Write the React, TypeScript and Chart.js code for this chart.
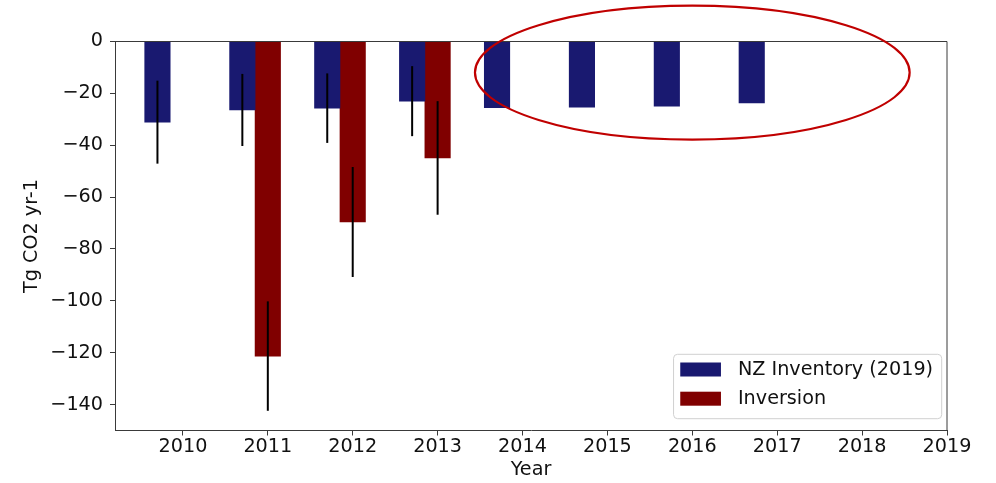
import React, { useEffect, useRef } from "react";
import { Chart, registerables } from "chart.js";

Chart.register(...registerables);

// Annual CO2 flux estimates (Tg CO2 per year)
const YEARS_NZ = [2010, 2011, 2012, 2013, 2014, 2015, 2016, 2017];
const NZ_INVENTORY = [-31.1, -26.4, -25.7, -23.0, -25.5, -25.3, -24.9, -23.7];
const NZ_ERROR = [16.0, 13.9, 13.4, 13.5, null, null, null, null];

const YEARS_INVERSION = [2011, 2012, 2013];
const INVERSION = [-121.3, -69.6, -44.9];
const INVERSION_ERROR = [21.1, 21.2, 21.9];

const SERIES_LABELS = ["NZ Inventory (2019)", "Inversion"];
const X_TICKS = [2010, 2011, 2012, 2013, 2014, 2015, 2016, 2017, 2018, 2019];
const Y_TICKS = [0, -20, -40, -60, -80, -100, -120, -140];

// Highlight ellipse around the inventory-only years (data units)
const HIGHLIGHT_CENTER = [2016.0, -12];
const HIGHLIGHT_RADII = [2.56, 25.8];

const BAR_OFFSET = 0.3; // inventory bars sit left of the year
const BLUE = "#191970";
const RED = "#800000";
const SPINE = "#3a3a3a";
const TEXT = "#111111";
const FONT_FAMILY = "'DejaVu Sans', sans-serif";
const FONT_SIZE = 19.2;

const overlayPlugin = {
  id: "overlay",
  afterDatasetsDraw(chart: any) {
    const { ctx, chartArea, scales } = chart;
    const yScale = scales.y;
    ctx.save();
    // error bars
    ctx.strokeStyle = "#000";
    ctx.lineWidth = 2;
    chart.data.datasets.forEach((ds: any, di: number) => {
      const meta = chart.getDatasetMeta(di);
      meta.data.forEach((el: any, i: number) => {
        const err = ds.errors ? ds.errors[i] : null;
        if (err == null) return;
        const v = ds.data[i].y;
        ctx.beginPath();
        ctx.moveTo(el.x, yScale.getPixelForValue(v + err));
        ctx.lineTo(el.x, yScale.getPixelForValue(v - err));
        ctx.stroke();
      });
    });
    // top and right spines
    ctx.strokeStyle = SPINE;
    ctx.lineWidth = 1;
    ctx.beginPath();
    ctx.moveTo(chartArea.left, chartArea.top);
    ctx.lineTo(chartArea.right, chartArea.top);
    ctx.lineTo(chartArea.right, chartArea.bottom);
    ctx.stroke();
    ctx.restore();
  },
  afterDraw(chart: any) {
    const { ctx, chartArea, scales } = chart;
    ctx.save();
    // legend box, lower right
    ctx.font = `${FONT_SIZE}px ${FONT_FAMILY}`;
    const labels = chart.data.datasets.map((d: any) => d.label);
    const textW = Math.max(...labels.map((l: string) => ctx.measureText(l).width));
    const padL = 6.7, handleW = 40.7, gap = 17, padR = 8.6, boxH = 64.4;
    const boxW = padL + handleW + gap + textW + padR;
    const right = chartArea.right - 5.3;
    const bottom = chartArea.bottom - 11.8;
    const left = right - boxW;
    const top = bottom - boxH;
    ctx.beginPath();
    ctx.roundRect(left, top, boxW, boxH, 4);
    ctx.fillStyle = "rgba(255,255,255,0.8)";
    ctx.fill();
    ctx.strokeStyle = "#d0d0d0";
    ctx.lineWidth = 1;
    ctx.stroke();
    chart.data.datasets.forEach((ds: any, k: number) => {
      const cy = top + 15.2 + k * 29.2;
      ctx.fillStyle = ds.backgroundColor;
      ctx.fillRect(left + padL, cy - 7, handleW, 14);
      ctx.fillStyle = TEXT;
      ctx.textAlign = "left";
      ctx.textBaseline = "middle";
      ctx.fillText(ds.label, left + padL + handleW + gap, cy + 0.5);
    });
    // highlight ellipse
    const xs = scales.x, ys = scales.y;
    const cx = xs.getPixelForValue(HIGHLIGHT_CENTER[0]);
    const cyE = ys.getPixelForValue(HIGHLIGHT_CENTER[1]);
    const rx = Math.abs(xs.getPixelForValue(HIGHLIGHT_CENTER[0] + HIGHLIGHT_RADII[0]) - cx);
    const ry = Math.abs(ys.getPixelForValue(HIGHLIGHT_CENTER[1] + HIGHLIGHT_RADII[1]) - cyE);
    ctx.beginPath();
    ctx.ellipse(cx, cyE, rx, ry, 0, 0, Math.PI * 2);
    ctx.strokeStyle = "#c00000";
    ctx.lineWidth = 2.2;
    ctx.stroke();
    ctx.restore();
  },
};

export default function App() {
  const canvasRef = useRef<HTMLCanvasElement | null>(null);

  useEffect(() => {
    if (!canvasRef.current) return;
    const font = { family: FONT_FAMILY, size: FONT_SIZE };
    const chart = new Chart(canvasRef.current, {
      type: "bar",
      data: {
        datasets: [
          {
            label: SERIES_LABELS[0],
            data: YEARS_NZ.map((yr, i) => ({ x: yr - BAR_OFFSET, y: NZ_INVENTORY[i] })),
            backgroundColor: BLUE,
            borderWidth: 0,
            grouped: false,
            categoryPercentage: 1,
            barPercentage: 1,
            errors: NZ_ERROR,
          } as any,
          {
            label: SERIES_LABELS[1],
            data: YEARS_INVERSION.map((yr, i) => ({ x: yr, y: INVERSION[i] })),
            backgroundColor: RED,
            borderWidth: 0,
            grouped: false,
            categoryPercentage: 1,
            barPercentage: 1,
            errors: INVERSION_ERROR,
          } as any,
        ],
      },
      options: {
        responsive: false,
        animation: false,
        layout: { padding: { left: 0, top: 41.5, right: 49, bottom: 0 } },
        plugins: { legend: { display: false }, tooltip: { enabled: false } },
        scales: {
          x: {
            type: "linear",
            min: 2009.2,
            max: 2019,
            offset: false,
            afterBuildTicks: (s: any) => {
              s.ticks = X_TICKS.map((v) => ({ value: v }));
            },
            afterFit: (s: any) => {
              s.height = 52.5;
            },
            grid: { offset: false, drawOnChartArea: false, drawTicks: true, tickLength: 5, color: SPINE, lineWidth: 1 },
            border: { display: true, color: SPINE, width: 1 },
            ticks: {
              font,
              color: TEXT,
              padding: 0,
              maxRotation: 0,
              autoSkip: false,
              callback: (v: any) => String(v),
            },
            title: { display: true, text: "Year", font, color: TEXT, padding: { top: 0, bottom: 1.2 } },
          },
          y: {
            min: -150,
            max: 0,
            afterBuildTicks: (s: any) => {
              s.ticks = Y_TICKS.map((v) => ({ value: v }));
            },
            afterFit: (s: any) => {
              s.width = 115;
            },
            grid: { drawOnChartArea: false, drawTicks: true, tickLength: 5, color: SPINE, lineWidth: 1 },
            border: { display: true, color: SPINE, width: 1 },
            ticks: {
              font,
              color: TEXT,
              padding: 7,
              callback: (v: any) => String(v).replace("-", "\u2212"),
            },
            title: { display: true, text: "Tg CO2 yr-1", font, color: TEXT, padding: { top: 20.5, bottom: 0 } },
          },
        },
      } as any,
      plugins: [overlayPlugin],
    });
    return () => chart.destroy();
  }, []);

  return (
    <div style={{ position: "fixed", left: 0, top: 0, width: 996, height: 483, background: "#fff" }}>
      <canvas ref={canvasRef} width={996} height={483} style={{ width: 996, height: 483 }} />
    </div>
  );
}
